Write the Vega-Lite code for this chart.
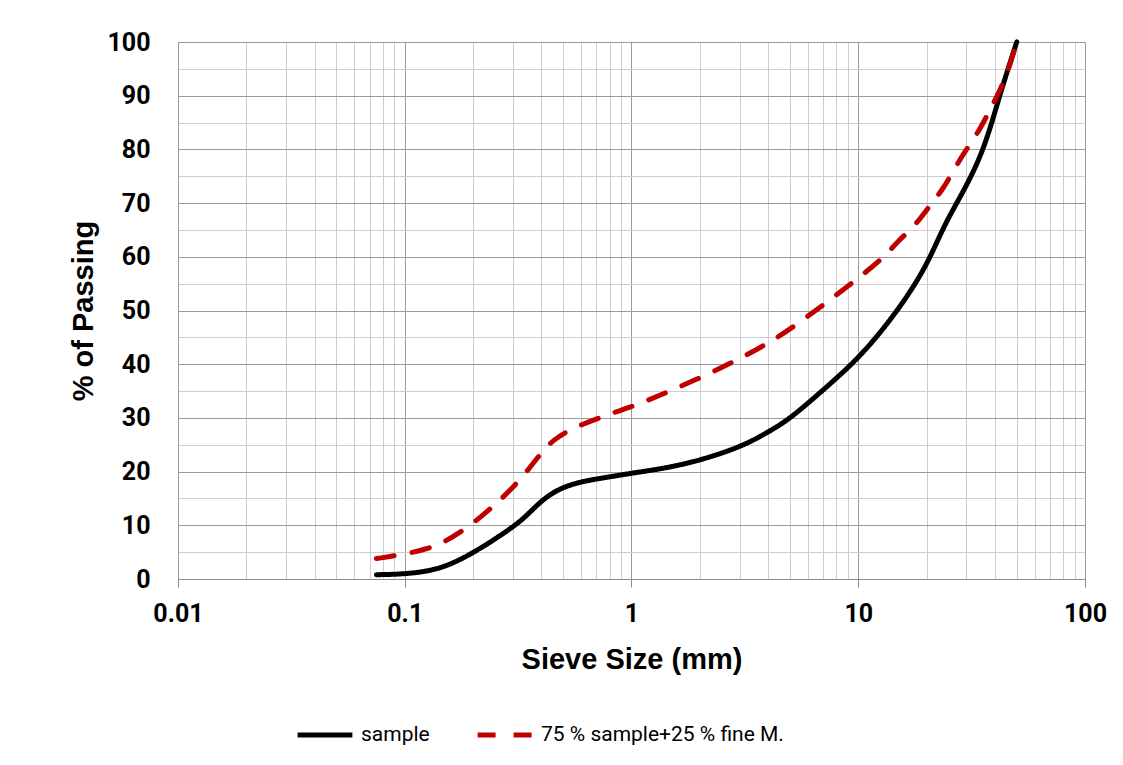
{
  "$schema": "https://vega.github.io/schema/vega-lite/v6.json",
  "autosize": {"type": "none"},
  "width": 907,
  "height": 537,
  "padding": {"left": 178, "top": 42, "right": 38, "bottom": 186},
  "background": "white",
  "config": {"view": {"stroke": null}},
  "data": {
    "values": [
      {"size": 0.075, "pass": 0.8, "series": "sample"},
      {"size": 0.1, "pass": 0.9, "series": "sample"},
      {"size": 0.143, "pass": 1.7, "series": "sample"},
      {"size": 0.2, "pass": 4.8, "series": "sample"},
      {"size": 0.26, "pass": 7.9, "series": "sample"},
      {"size": 0.33, "pass": 10.9, "series": "sample"},
      {"size": 0.39, "pass": 14.2, "series": "sample"},
      {"size": 0.47, "pass": 16.7, "series": "sample"},
      {"size": 0.59, "pass": 18.1, "series": "sample"},
      {"size": 0.77, "pass": 18.9, "series": "sample"},
      {"size": 1.0, "pass": 19.7, "series": "sample"},
      {"size": 1.3, "pass": 20.4, "series": "sample"},
      {"size": 1.83, "pass": 21.6, "series": "sample"},
      {"size": 2.98, "pass": 24.4, "series": "sample"},
      {"size": 3.95, "pass": 27.2, "series": "sample"},
      {"size": 5.0, "pass": 29.8, "series": "sample"},
      {"size": 7.0, "pass": 35.2, "series": "sample"},
      {"size": 9.9, "pass": 40.8, "series": "sample"},
      {"size": 14, "pass": 48.3, "series": "sample"},
      {"size": 19.7, "pass": 57.5, "series": "sample"},
      {"size": 23.7, "pass": 65.6, "series": "sample"},
      {"size": 28.1, "pass": 71.0, "series": "sample"},
      {"size": 35.6, "pass": 79.3, "series": "sample"},
      {"size": 42.2, "pass": 90.4, "series": "sample"},
      {"size": 50, "pass": 100, "series": "sample"},
      {"size": 0.075, "pass": 3.8, "series": "75 % sample+25 % fine M."},
      {"size": 0.1, "pass": 4.6, "series": "75 % sample+25 % fine M."},
      {"size": 0.125, "pass": 5.6, "series": "75 % sample+25 % fine M."},
      {"size": 0.15, "pass": 6.8, "series": "75 % sample+25 % fine M."},
      {"size": 0.2, "pass": 10.3, "series": "75 % sample+25 % fine M."},
      {"size": 0.25, "pass": 13.8, "series": "75 % sample+25 % fine M."},
      {"size": 0.3, "pass": 17.0, "series": "75 % sample+25 % fine M."},
      {"size": 0.35, "pass": 20.3, "series": "75 % sample+25 % fine M."},
      {"size": 0.4, "pass": 23.5, "series": "75 % sample+25 % fine M."},
      {"size": 0.45, "pass": 25.9, "series": "75 % sample+25 % fine M."},
      {"size": 0.55, "pass": 28.1, "series": "75 % sample+25 % fine M."},
      {"size": 0.7, "pass": 29.8, "series": "75 % sample+25 % fine M."},
      {"size": 0.85, "pass": 31.1, "series": "75 % sample+25 % fine M."},
      {"size": 1.05, "pass": 32.4, "series": "75 % sample+25 % fine M."},
      {"size": 1.3, "pass": 34.0, "series": "75 % sample+25 % fine M."},
      {"size": 2.0, "pass": 37.4, "series": "75 % sample+25 % fine M."},
      {"size": 3.0, "pass": 41.0, "series": "75 % sample+25 % fine M."},
      {"size": 4.0, "pass": 43.9, "series": "75 % sample+25 % fine M."},
      {"size": 5.0, "pass": 46.5, "series": "75 % sample+25 % fine M."},
      {"size": 7.0, "pass": 51.0, "series": "75 % sample+25 % fine M."},
      {"size": 10, "pass": 56.0, "series": "75 % sample+25 % fine M."},
      {"size": 13, "pass": 59.9, "series": "75 % sample+25 % fine M."},
      {"size": 15, "pass": 63.0, "series": "75 % sample+25 % fine M."},
      {"size": 18, "pass": 66.0, "series": "75 % sample+25 % fine M."},
      {"size": 20.7, "pass": 69.6, "series": "75 % sample+25 % fine M."},
      {"size": 23.7, "pass": 72.6, "series": "75 % sample+25 % fine M."},
      {"size": 26.7, "pass": 76.6, "series": "75 % sample+25 % fine M."},
      {"size": 30, "pass": 80.0, "series": "75 % sample+25 % fine M."},
      {"size": 34.3, "pass": 83.6, "series": "75 % sample+25 % fine M."},
      {"size": 38, "pass": 87.3, "series": "75 % sample+25 % fine M."},
      {"size": 42, "pass": 90.8, "series": "75 % sample+25 % fine M."},
      {"size": 46, "pass": 94.8, "series": "75 % sample+25 % fine M."},
      {"size": 50, "pass": 100, "series": "75 % sample+25 % fine M."}
    ]
  },
  "mark": {"type": "line", "interpolate": "basis", "strokeWidth": 5, "strokeCap": "round", "strokeJoin": "round", "clip": false},
  "encoding": {
    "x": {
      "field": "size", "type": "quantitative",
      "scale": {"type": "log", "domain": [0.01, 100], "nice": false},
      "axis": {
        "title": "Sieve Size (mm)",
        "values": [0.01,0.02,0.03,0.04,0.05,0.06,0.07,0.08,0.09,0.1,0.2,0.3,0.4,0.5,0.6,0.7,0.8,0.9,1,2,3,4,5,6,7,8,9,10,20,30,40,50,60,70,80,90,100],
        "format": "~g",
        "labelExpr": "indexof([0.01,0.1,1,10,100], datum.value) >= 0 ? datum.label : ''",
        "labelOverlap": false,
        "labelBound": false,
        "labelFlush": false,
        "labelFont": "Roboto",
        "labelFontWeight": "bold",
        "labelFontSize": 25,
        "labelColor": "#000000",
        "labelPadding": 14,
        "grid": true,
        "gridColor": {"condition": {"test": "indexof([0.01,0.1,1,10,100], datum.value) >= 0", "value": "#9a9a9a"}, "value": "#cdcdcd"},
        "gridWidth": 1,
        "ticks": true,
        "tickSize": 8,
        "tickColor": {"condition": {"test": "indexof([0.01,0.1,1,10,100], datum.value) >= 0", "value": "#8c8c8c"}, "value": "transparent"},
        "domain": true,
        "domainColor": "#8c8c8c",
        "domainWidth": 1,
        "titleFont": "Liberation Sans",
        "titleFontWeight": "bold",
        "titleFontSize": 29,
        "titleColor": "#000000",
        "titlePadding": 19
      }
    },
    "y": {
      "field": "pass", "type": "quantitative",
      "scale": {"domain": [0, 100], "nice": false},
      "axis": {
        "title": "% of Passing",
        "values": [0,5,10,15,20,25,30,35,40,45,50,55,60,65,70,75,80,85,90,95,100],
        "labelExpr": "datum.value % 10 === 0 ? datum.label : ''",
        "labelOverlap": false,
        "labelBound": false,
        "labelFlush": false,
        "labelFont": "Roboto",
        "labelFontWeight": "bold",
        "labelFontSize": 25,
        "labelColor": "#000000",
        "labelPadding": 28,
        "ticks": false,
        "tickSize": 0,
        "grid": true,
        "gridColor": {"condition": {"test": "datum.value % 10 === 0", "value": "#9a9a9a"}, "value": "#cdcdcd"},
        "gridWidth": 1,
        "domain": true,
        "domainColor": "#9a9a9a",
        "titleFont": "Liberation Sans",
        "titleFontWeight": "bold",
        "titleFontSize": 29,
        "titleColor": "#000000",
        "titlePadding": 8
      }
    },
    "color": {
      "field": "series", "type": "nominal",
      "scale": {"domain": ["sample", "75 % sample+25 % fine M."], "range": ["#000000", "#C00000"]},
      "legend": {
        "title": null,
        "orient": "none",
        "legendX": 117,
        "legendY": 663,
        "direction": "horizontal",
        "symbolType": "stroke",
        "symbolSize": 3000,
        "symbolStrokeWidth": 5,
        "labelFont": "Roboto",
        "labelFontSize": 21,
        "labelColor": "#000000",
        "labelOffset": 6,
        "columnPadding": 37,
        "labelLimit": 400
      }
    },
    "strokeDash": {
      "field": "series", "type": "nominal",
      "scale": {"domain": ["sample", "75 % sample+25 % fine M."], "range": [[1, 0], [18, 18]]},
      "legend": {
        "title": null,
        "orient": "none",
        "legendX": 117,
        "legendY": 663,
        "direction": "horizontal",
        "symbolType": "stroke",
        "symbolSize": 3000,
        "symbolStrokeWidth": 5,
        "labelFont": "Roboto",
        "labelFontSize": 21,
        "labelColor": "#000000",
        "labelOffset": 6,
        "columnPadding": 37,
        "labelLimit": 400
      }
    }
  }
}
